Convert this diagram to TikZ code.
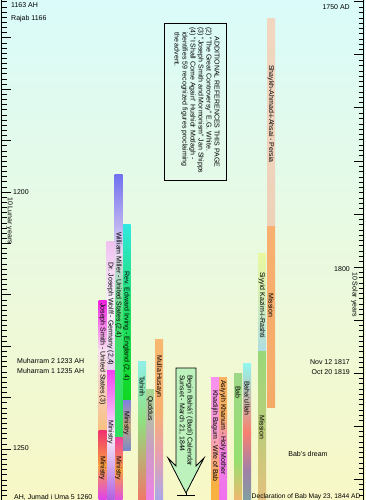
\documentclass[tikz,border=0pt]{standalone}
\usepackage{fontspec}
\setmainfont{Liberation Sans}
\definecolor{bgtop}{HTML}{DAFBFA}
\definecolor{bgmid}{HTML}{E8F8D8}
\definecolor{bgbot}{HTML}{F8F8C6}
\definecolor{arrowfill}{HTML}{BDF2BD}
\newcommand{\seg}[5]{\definecolor{segA}{HTML}{#4}\definecolor{segB}{HTML}{#5}%
  \shade[top color=segA,bottom color=segB] (#1,#2) rectangle (#1+8,#3);}
\begin{document}
\begin{tikzpicture}[x=1pt,y=-1pt,
  lab/.style={font=\fontsize{7}{8}\selectfont, inner sep=0pt, text=black},
  vlab/.style={lab, rotate=-90, anchor=west},
  tickline/.style={line width=0.7pt},
  majortick/.style={line width=1pt}]
\useasboundingbox (0,0) rectangle (365,500);
\clip (0,0) rectangle (365,500);
\shade[top color=bgtop, middle color=bgmid, bottom color=bgbot] (0,0) rectangle (365,500);

% left lunar ruler
\draw[tickline] (1.5,0) -- (1.5,500);
\foreach \k in {1163,...,1260}{
  \pgfmathsetmacro\yy{192+(\k-1200)*5.142}
  \pgfmathtruncatemacro\ismaj{mod(\k,10)==0 ? 1 : 0}
  \ifnum\ismaj=1
    \draw[majortick] (1.5,\yy) -- (11,\yy);
  \else
    \draw[tickline] (1.5,\yy) -- (6.5,\yy);
  \fi
}
% right solar ruler
\draw[tickline] (363.5,0) -- (363.5,500);
\foreach \yr in {1750,...,1844}{
  \pgfmathsetmacro\yy{2+(\yr-1750)*5.3}
  \pgfmathtruncatemacro\ismaj{mod(\yr,10)==0 ? 1 : 0}
  \ifnum\ismaj=1
    \draw[majortick] (353.5,\yy) -- (363.5,\yy);
  \else
    \draw[tickline] (358.5,\yy) -- (363.5,\yy);
  \fi
}

% ruler labels
\node[lab, anchor=west] (ah1163) at (11,5) {1163 AH};
\node[lab, anchor=west] (rajab) at (11,19) {Rajab 1166};
\node[lab, anchor=west] (ah1200) at (13,192) {1200};
\node[vlab] (lunar) at (9.5,197) {10 Lunar years};
\node[lab, anchor=west] (muh2) at (17,361) {Muharram 2 1233 AH};
\node[lab, anchor=west] (muh1) at (17,371) {Muharram 1 1235 AH};
\node[lab, anchor=west] (ah1250) at (13,448) {1250};
\node[lab, anchor=west] (jumad) at (14,497) {AH, Jumad i Uma 5 1260};
\node[lab, anchor=east] (ad1750) at (350,7) {1750 AD};
\node[lab, anchor=east] (ad1800) at (350,269) {1800};
\node[vlab] (solar) at (354.5,272) {10 Solar years};
\node[lab, anchor=east] (nov) at (350,362) {Nov 12 1817};
\node[lab, anchor=east] (oct) at (350,372) {Oct 20 1819};
\node[lab] (dream) at (308,454) {Bab's dream};

% references box
\draw[line width=0.8pt] (164,23) rectangle (226,180);
\node[vlab, anchor=center] (refhead) at (217,102) {ADDITIONAL REFERENCES THIS PAGE};
\node[lab, rotate=-90, anchor=north west, align=left] (refs) at (212,27)
 {(2) "The Great Controversy" E.G. White.\\
  (3) "Joseph Smith and Mormonism" Jan Shipps\\
  (4) "I Shall Come Again" Hushidr Motlagh -\\
  \hspace*{5pt}identifies 59 recognized figures proclaiming\\
  \hspace*{5pt}the advent.};

% Shaykh Ahmad
\seg{267}{19}{226}{F2D7C0}{EED1B9}
\seg{267}{226}{407}{F8B070}{F5AA68}
\node[vlab] (shaykh) at (271,65) {Shaykh-Ahmad-i-Ahsai - Persia};
\node[vlab] (shmission) at (271,293) {Mission};
% Siyyid Kazim
\seg{258}{253}{300}{EAF8A0}{D2EEB8}
\seg{258}{300}{351}{D2EEB8}{ADDCE2}
\seg{258}{351}{430}{98D878}{BCCC7A}
\seg{258}{430}{500}{BCCC7A}{E4C07E}
\node[vlab] (kazim) at (262,272) {Siyyid Kazim-i-Rashti};
\node[vlab] (kzmission) at (262,415) {Mission};
% Baha'u'llah
\seg{243}{363}{432}{90F8F0}{F88070}
\seg{243}{432}{470}{F88070}{A080A8}
\seg{243}{470}{500}{A080A8}{80A0A0}
\node[vlab] (bahaullah) at (247,381) {Baha'u'llah};
% Bab
\seg{234}{373}{460}{9ED888}{96E070}
\seg{234}{460}{500}{96E070}{F0B870}
\node[vlab] (bab) at (238,386) {Bab};
% Asiyyih Khanum
\seg{219}{377}{415}{F8B262}{F8B060}
\seg{219}{415}{450}{F8B060}{F080E0}
\seg{219}{450}{500}{F080E0}{F070F0}
\node[vlab] (asiyyih) at (223,380) {Asiyyih Khanum - Holy Mother};
% Khadijih Bagum
\seg{211}{377}{430}{F890F0}{F8A0D0}
\seg{211}{430}{485}{F8A0D0}{F8B040}
\seg{211}{485}{500}{F8B040}{F8B040}
\node[vlab] (khadijih) at (215,390) {Khadijih Bagum - Wife of Bab};

% Badi calendar arrow
\draw[line width=0.8pt, fill=arrowfill] (176,368) -- (196,368) -- (196,466) -- (204,458)
  -- (186,493) -- (168,458) -- (176,466) -- cycle;
\draw[line width=1pt] (177,495) -- (195,495);
\draw[line width=0.8pt] (186,493) -- (186,495);
\node[vlab] (badi1) at (189.5,375) {Begin Bahá'í (Badí) Calendar};
\node[vlab] (badi2) at (182,375) {Sunset - March 21, 1844};

% Letters of the Living
\seg{155}{339}{410}{F8B870}{F8B070}
\seg{155}{410}{455}{F8B070}{E8A0B0}
\seg{155}{455}{500}{E8A0B0}{A8A8E8}
\node[vlab] (mulla) at (159,355) {Mulla Husayn};
\seg{146}{389}{445}{A8D890}{C8A0C0}
\seg{146}{445}{500}{C8A0C0}{F080E8}
\node[vlab] (quddus) at (150,396) {Quddus};
\seg{138}{361}{420}{90F0E8}{90E080}
\seg{138}{420}{500}{90E080}{F07868}
\node[vlab] (tahirih) at (142,376) {Tahirih};

% Western advent figures
\seg{122.5}{224}{300}{30E8E0}{20E070}
\seg{122.5}{300}{400}{20E070}{10D820}
\seg{122.5}{400}{425}{8080E0}{C8A880}
\seg{122.5}{425}{450}{C8A880}{7888C8}
\node[vlab] (irving) at (126.5,271) {Rev. Edward Irving - England (2, 4)};
\node[vlab] (irvmin) at (126.5,411) {Ministry};

\seg{114.5}{174}{255}{7070F0}{E8D8F0}
\seg{114.5}{255}{320}{E8D8F0}{40E070}
\seg{114.5}{320}{437}{40E070}{30E060}
\seg{114.5}{437}{470}{F040A0}{F8A040}
\seg{114.5}{470}{500}{F8A040}{E050E0}
\node[vlab] (miller) at (118.5,232) {William Miller - United States (2,4)};
\node[vlab] (milmin) at (118.5,456) {Ministry};

\seg{106.5}{241}{300}{F0C0F0}{F8F0F8}
\seg{106.5}{300}{370}{F8F0F8}{E8D0F0}
\seg{106.5}{370}{435}{F040F0}{F8F0F8}
\seg{106.5}{435}{500}{F8F0F8}{B060E0}
\node[vlab] (wolff) at (110.5,262) {Dr. Joseph Wolff - Germany (2,4)};
\node[vlab] (wolmin) at (110.5,420) {Ministry};

\seg{98.5}{300}{350}{F020E0}{F8E0F0}
\seg{98.5}{350}{430}{F8E0F0}{F8C080}
\seg{98.5}{430}{465}{F03070}{F8A040}
\seg{98.5}{465}{500}{F8A040}{E040F0}
\node[vlab] (smith) at (102.5,303) {Joseph Smith - United States (3)};
\node[vlab] (smimin) at (102.5,456) {Ministry};

% bottom right label drawn on top of the bars
\node[lab, font=\fontsize{6.7}{8}\selectfont, anchor=west] (decl) at (251.5,497) {Declaration of Bab May 23, 1844 AD};
\end{tikzpicture}
\end{document}
